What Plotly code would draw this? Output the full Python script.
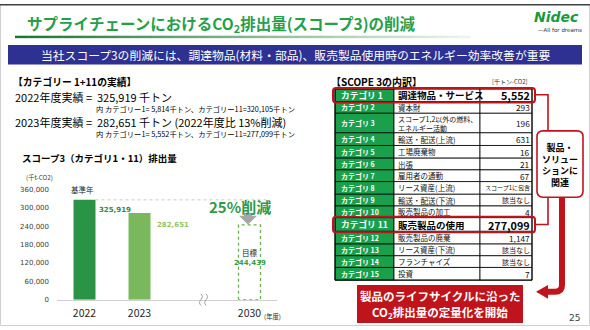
import plotly.graph_objects as go

W, H = 590, 330

# ---------------- data ----------------
years = ["2022", "2023", "2030"]
year_pos = [0, 1, 3]
emissions = [325919, 282651]
target_2030 = 244439
y_ticks = [0, 60000, 120000, 180000, 240000, 300000, 360000]
bar_colors = ["#2a9446", "#7ab85e"]
label_colors = ["#2e8b47", "#94c462"]

cat_names = ["カテゴリ 1", "カテゴリ 2", "カテゴリ 3", "カテゴリ 4", "カテゴリ 5",
             "カテゴリ 6", "カテゴリ 7", "カテゴリ 8", "カテゴリ 9", "カテゴリ 10",
             "カテゴリ 11", "カテゴリ 12", "カテゴリ 13", "カテゴリ 14", "カテゴリ 15"]
cat_desc = ["調達物品・サービス", "資本財", "スコープ1,2以外の燃料、<br>エネルギー活動",
            "輸送・配送(上流)", "工場廃棄物", "出張", "雇用者の通勤", "リース資産(上流)",
            "輸送・配送(下流)", "販売製品の加工", "販売製品の使用", "販売製品の廃棄",
            "リース資産(下流)", "フランチャイズ", "投資"]
cat_vals = ["5,552", "293", "196", "631", "16", "21", "67", "スコープ1に包含", "該当なし",
            "4", "277,099", "1,147", "該当なし", "該当なし", "7"]
highlight_rows = [0, 10]

JP = "Noto Sans CJK JP"
NUM = "DejaVu Sans"
GREEN_T = "#25a04a"
CAT_GREEN = "#1aa04c"
RED = "#c0141c"


def px(x):
    return x / W


def py(y):
    return 1 - y / H


def P(x, y):
    return f"{px(x):.5f},{py(y):.5f}"


shapes = []
annotations = []


def rect(x0, y0, x1, y1, fill=None, line=None, lw=0):
    shapes.append(dict(type="rect", xref="paper", yref="paper",
                       x0=px(x0), x1=px(x1), y0=py(y1), y1=py(y0),
                       fillcolor=fill if fill else "rgba(0,0,0,0)",
                       line=dict(color=line if line else "rgba(0,0,0,0)", width=lw)))


def path(d, fill=None, line=None, lw=0):
    shapes.append(dict(type="path", xref="paper", yref="paper", path=d,
                       fillcolor=fill if fill else "rgba(0,0,0,0)",
                       line=dict(color=line if line else "rgba(0,0,0,0)", width=lw)))


def poly(pts, fill):
    d = "M " + " L ".join(P(x, y) for x, y in pts) + " Z"
    path(d, fill=fill)


def rrect(x0, y0, x1, y1, r, fill=None, line=None, lw=0):
    d = (f"M {P(x0 + r, y0)} L {P(x1 - r, y0)} Q {P(x1, y0)} {P(x1, y0 + r)} "
         f"L {P(x1, y1 - r)} Q {P(x1, y1)} {P(x1 - r, y1)} L {P(x0 + r, y1)} "
         f"Q {P(x0, y1)} {P(x0, y1 - r)} L {P(x0, y0 + r)} Q {P(x0, y0)} {P(x0 + r, y0)} Z")
    path(d, fill=fill, line=line, lw=lw)


def txt(x, y, s, size, color="#000000", xanchor="left", family=JP, align=None):
    annotations.append(dict(xref="paper", yref="paper", x=px(x), y=py(y), text=s,
                            showarrow=False, xanchor=xanchor, yanchor="middle",
                            align=align if align else xanchor,
                            borderpad=0, font=dict(size=size, color=color, family=family)))


# ---------------- slide frame ----------------
rect(0.5, 0.5, 589.5, 329.5, line="#d0d0d0", lw=1)
rect(0, 0, 590, 1.5, fill="#404040")

# title + gradient underline
txt(26, 20, "<b>サプライチェーンにおけるCO<sub>2</sub>排出量(スコープ3)の削減</b>", 15.5, GREEN_T)
n_seg = 40
c0 = (24, 118, 52)
c1 = (235, 245, 232)
for i in range(n_seg):
    t = i / (n_seg - 1)
    c = tuple(int(c0[k] + (c1[k] - c0[k]) * t) for k in range(3))
    xa = 15 + (470 - 15) * i / n_seg
    xb = 15 + (470 - 15) * (i + 1) / n_seg
    rect(xa, 32.5, xb + 0.5, 35, fill=f"rgb{c}")

# logo
txt(556, 13, "<b><i>Nidec</i></b>", 14, "#1a9a3c", xanchor="center", family=NUM)
txt(560, 27, "—All for dreams", 5.5, "#333333", xanchor="center", family=NUM)

# blue banner
rect(8, 42, 582, 62, fill="#2e3192")
txt(295, 52, "当社スコープ3の削減には、調達物品(材料・部品)、販売製品使用時のエネルギー効率改善が重要",
    11.8, "#ffffff", xanchor="center")

# left text block
txt(12, 80, "<b>【カテゴリー 1+11の実績】</b>", 9.8)
txt(14, 95, "2022年度実績 =  325,919 千トン", 11)
txt(95, 107.5, "内 カテゴリー1= 5,814千トン、カテゴリー11=320,105千トン", 7.3)
txt(14, 121, "2023年度実績 =  282,651 千トン (2022年度比 13%削減)", 11)
txt(95, 133.5, "内 カテゴリー1= 5,552千トン、カテゴリー11=277,099千トン", 7.3)

# chart titles
txt(21, 158, "<b>スコープ3（カテゴリ1・11）排出量</b>", 9.5)
txt(39, 178, "(千t-CO2)", 6.3, "#404040", xanchor="center")
txt(82, 190, "基準年", 7.5, "#262626", xanchor="center")
txt(272, 320, "(年度)", 6.3, "#262626", xanchor="center")

# 25% reduction label and arrow
txt(240, 208, "<b>25%削減</b>", 15, "#2e9a4a", xanchor="center")
poly([(244, 214), (252, 214), (252, 217), (257, 217), (248, 226), (239, 217), (244, 217)], "#a6a6a6")

# axis break mark (two small wavy strokes)
for o in (0, 5):
    path(f"M {P(201 + o, 297)} Q {P(204 + o, 300)} {P(201 + o, 303)} "
         f"Q {P(198 + o, 306)} {P(201 + o, 309)}", line="#a0a0a0", lw=1)

# ---------------- table ----------------
txt(330, 79, "<b>【SCOPE 3の内訳】</b>", 10)
txt(510, 79, "[千トン-CO2]", 6, "#333333", xanchor="center")

bounds = [87, 100, 112, 132, 145, 158, 170, 182, 195, 207, 219, 233, 246, 258, 270, 283]
cx0, cx1, cx2, cx3 = 335, 394, 480, 532
for i in range(len(cat_names)):
    y0, y1 = bounds[i], bounds[i + 1]
    ym = (y0 + y1) / 2
    rect(cx0, y0, cx1, y1, fill=CAT_GREEN, line="#000000", lw=0.8)
    rect(cx1, y0, cx2, y1, fill="#ffffff", line="#000000", lw=0.8)
    rect(cx2, y0, cx3, y1, fill="#ffffff", line="#000000", lw=0.8)
    hl = i in highlight_rows
    txt(340, ym, f"<b>{cat_names[i]}</b>", 8.7 if hl else 7, "#ffffff")
    if hl:
        txt(397, ym, f"<b>{cat_desc[i]}</b>", 9.5)
        txt(531, ym, f"<b>{cat_vals[i]}</b>", 10.8, xanchor="right")
    else:
        dsize = 7 if "<br>" in cat_desc[i] else 7.5
        txt(397, ym, cat_desc[i], dsize, "#111111", align="left")
        v = cat_vals[i]
        vsize = 8.3 if v[0].isdigit() else (6 if len(v) > 5 else 7)
        txt(531, ym, v, vsize, "#111111", xanchor="right")
rect(cx0, bounds[0], cx3, bounds[-1], line="#000000", lw=1)

# highlight boxes
for i in highlight_rows:
    rrect(333, bounds[i] - 1, 535, bounds[i + 1] + 1, 3, line=RED, lw=2)

# connectors
path(f"M {P(535, 93)} L {P(548, 93)} L {P(548, 130)}", line=RED, lw=1.6)
path(f"M {P(535, 226)} L {P(548, 226)} L {P(548, 198)}", line=RED, lw=1.6)

# related box
rrect(537, 130, 583, 198, 6, fill="#ffffff", line=RED, lw=1.6)
txt(560, 165, "<b>製品・<br>ソリュー<br>ションに<br>関連</b>", 9, xanchor="center")

# thick arrow
path(f"M {P(562, 198)} L {P(562, 288)} Q {P(562, 295)} {P(555, 295)} L {P(546, 295)}",
     line=RED, lw=6)
poly([(548, 288), (548, 302), (536, 295)], RED)

# red banner
rect(357, 288, 523, 327, fill=RED)
txt(440, 299, "<b>製品のライフサイクルに沿った</b>", 11.5, "#ffffff", xanchor="center")
txt(440, 316, "<b>CO<sub>2</sub>排出量の定量化を開始</b>", 11.5, "#ffffff", xanchor="center")

# page number
txt(581, 322, "25", 9, "#404040", xanchor="right", family=NUM)

# ---------------- chart ----------------
fig = go.Figure()
fig.add_trace(go.Bar(x=year_pos[:2], y=emissions, width=0.4,
                     marker=dict(color=bar_colors, line=dict(width=0)),
                     hoverinfo="skip"))
p = year_pos[2]
hw = 0.2
fig.add_trace(go.Scatter(x=[p - hw, p - hw, p + hw, p + hw, p - hw],
                         y=[0, target_2030, target_2030, 0, 0],
                         mode="lines", line=dict(color="#6aad52", width=1.3, dash="dot"),
                         hoverinfo="skip"))

# base-year reference line
shapes.append(dict(type="line", xref="x", yref="y", x0=year_pos[0] + hw, x1=p + 0.3,
                   y0=emissions[0], y1=emissions[0],
                   line=dict(color="#c8c8c8", width=1, dash="dot")))

# value labels
annotations.append(dict(xref="x", yref="y", x=year_pos[0] + hw, y=emissions[0],
                        text=f"<b>{emissions[0]:,}</b>", showarrow=False, xanchor="left",
                        yanchor="middle", xshift=1, yshift=-10,
                        font=dict(size=7, color=label_colors[0], family=NUM)))
annotations.append(dict(xref="x", yref="y", x=year_pos[1] + hw, y=emissions[1],
                        text=f"<b>{emissions[1]:,}</b>", showarrow=False, xanchor="left",
                        yanchor="middle", xshift=4, yshift=-12,
                        font=dict(size=7, color=label_colors[1], family=NUM)))
annotations.append(dict(xref="x", yref="y", x=p, y=target_2030 * 0.55,
                        text="目標", showarrow=False, xanchor="center", yanchor="middle",
                        yshift=6, font=dict(size=7.5, color="#262626", family=JP)))
annotations.append(dict(xref="x", yref="y", x=p, y=target_2030 * 0.55,
                        text=f"<b>{target_2030:,}</b>", showarrow=False, xanchor="center",
                        yanchor="middle", yshift=-5,
                        font=dict(size=7, color="#3a9a50", family=NUM)))

fig.update_layout(
    width=W, height=H, margin=dict(l=0, r=0, t=0, b=0),
    paper_bgcolor="#ffffff", plot_bgcolor="rgba(0,0,0,0)", showlegend=False,
    xaxis=dict(domain=[px(57), px(277)], range=[-0.5, 3.5], tickmode="array",
               tickvals=year_pos, ticktext=years, showline=True, linecolor="#d0d0d0",
               linewidth=1, ticks="", showgrid=False, zeroline=False,
               ticklabelstandoff=4,
               tickfont=dict(size=10.5, color="#262626", family=JP)),
    yaxis=dict(domain=[py(303), py(190)], range=[0, 360000], tickmode="array",
               tickvals=y_ticks, tickformat=",", showgrid=False, zeroline=False,
               showline=False, ticks="", ticklabelstandoff=7,
               tickfont=dict(size=7, color="#404040", family=NUM)),
    shapes=shapes, annotations=annotations,
)

fig.write_html("out.html")
